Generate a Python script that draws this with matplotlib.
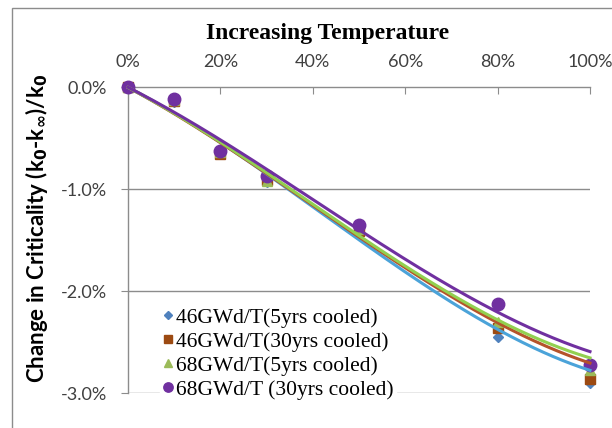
import numpy as np
import matplotlib
matplotlib.use("Agg")
import matplotlib.pyplot as plt
from matplotlib.lines import Line2D
from matplotlib.patches import Rectangle
from matplotlib.ticker import FuncFormatter

# Relative temperature increase (%) and change in criticality (%)
temperature = [0, 10, 20, 30, 50, 80, 100]
series_names = ["46GWd/T(5yrs cooled)", "46GWd/T(30yrs cooled)",
                "68GWd/T(5yrs cooled)", "68GWd/T (30yrs cooled)"]
bu46_5yr = [0.0, -0.15, -0.66, -0.93, -1.43, -2.45, -2.90]
bu46_30yr = [0.0, -0.14, -0.66, -0.91, -1.41, -2.36, -2.86]
bu68_5yr = [0.0, -0.13, -0.64, -0.92, -1.39, -2.30, -2.77]
bu68_30yr = [0.0, -0.12, -0.63, -0.87, -1.35, -2.13, -2.73]

# Trend-curve levels for each series
trend_x = [0, 30, 50, 80, 100]
trend_46_5yr = [0.0, -0.88, -1.46, -2.40, -2.77]
trend_46_30yr = [0.0, -0.87, -1.44, -2.33, -2.70]
trend_68_5yr = [0.0, -0.86, -1.43, -2.30, -2.65]
trend_68_30yr = [0.0, -0.82, -1.38, -2.22, -2.59]

x_ticks = [0, 20, 40, 60, 80, 100]
y_ticks = [0.0, -1.0, -2.0, -3.0]

series = [bu46_5yr, bu46_30yr, bu68_5yr, bu68_30yr]
trends = [trend_46_5yr, trend_46_30yr, trend_68_5yr, trend_68_30yr]
marker_colors = ["#4F81BD", "#9C4A12", "#9BBB59", "#7030A0"]
line_colors = ["#4BA3D9", "#B5532A", "#92D050", "#7030A0"]
markers = ["D", "s", "^", "o"]
marker_sizes = [5, 7, 7, 9]

fig = plt.figure(figsize=(6.12, 4.28), dpi=100)
fig.patch.set_facecolor("white")
fig.add_artist(Rectangle((12 / 612, -0.1), 1.2, 1 - 8 / 428 + 0.1,
                         transform=fig.transFigure, fill=False,
                         edgecolor="#8C8C8C", linewidth=1.0))

ax = fig.add_axes([128 / 612, 1 - 393 / 428, (590 - 128) / 612, (393 - 87) / 428])
ax.set_xlim(0, 100)
ax.set_ylim(-3.0, 0.0)

grid_c = "#8C8C8C"
for yv in y_ticks[1:]:
    ax.axhline(yv, color=grid_c, linewidth=1.0, zorder=0)

for vals, mc, mk, ms in zip(series, marker_colors, markers, marker_sizes):
    ax.plot(temperature, vals, linestyle="none", marker=mk, color=mc,
            markersize=ms, zorder=3, clip_on=False)

# smooth cubic trend curves
xfit = np.linspace(0, 100, 200)
for tvals, lc in zip(trends, line_colors):
    coef = np.polyfit(np.array(trend_x, float), np.array(tvals), 3)
    ax.plot(xfit, np.polyval(coef, xfit), color=lc, linewidth=2.2, zorder=4,
            clip_on=False)

for side in ["right", "bottom"]:
    ax.spines[side].set_visible(False)
ax.spines["left"].set_color(grid_c)
ax.spines["top"].set_color(grid_c)
ax.spines["left"].set_linewidth(1.0)
ax.spines["top"].set_linewidth(1.0)

ax.xaxis.tick_top()
ax.set_xticks(x_ticks)
ax.xaxis.set_major_formatter(FuncFormatter(lambda v, p: f"{v:.0f}%"))
ax.tick_params(axis="x", direction="in", length=5, color=grid_c, pad=12,
               labelsize=13, labelcolor="#404040")
ax.set_yticks(y_ticks)
ax.yaxis.set_major_formatter(FuncFormatter(lambda v, p: f"{v:.1f}%"))
ax.tick_params(axis="y", direction="out", length=5, color=grid_c, pad=10,
               labelsize=13, labelcolor="#404040")
for lab in ax.get_xticklabels() + ax.get_yticklabels():
    lab.set_family("Lato")

fig.text(328 / 612, 1 - 33 / 428, "Increasing Temperature", ha="center", va="center",
         family="Liberation Serif", fontweight="bold", fontsize=17)
fig.text(37 / 612, 1 - 228 / 428,
         r"Change in Criticality (k$_\mathbf{0}$-k$_\mathbf{\infty}$)/k$_\mathbf{0}$",
         rotation=90, ha="center", va="center", family="Lato",
         fontweight="bold", fontsize=16)

handles = [Line2D([], [], linestyle="none", marker=mk, color=mc, markersize=ms * 0.75)
           for mk, mc, ms in zip(markers, marker_colors, marker_sizes)]
leg = ax.legend(handles, series_names, loc="lower left",
                bbox_to_anchor=(160 / 612, 1 - 402 / 428), bbox_transform=fig.transFigure,
                frameon=True, framealpha=1.0, edgecolor="white", fancybox=False,
                prop={"family": "Liberation Serif", "size": 15.5},
                handlelength=0.5, handletextpad=0.15, labelspacing=0.18,
                borderpad=0.1, borderaxespad=0)
leg.set_zorder(5)

fig.savefig("out.png", dpi=100)
